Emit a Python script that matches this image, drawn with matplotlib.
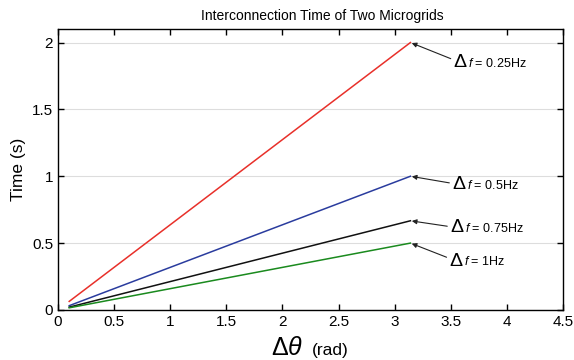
import matplotlib.pyplot as plt

plt.rcParams['font.family'] = ['Liberation Sans', 'DejaVu Sans']
plt.rcParams['mathtext.fontset'] = 'custom'
plt.rcParams['mathtext.rm'] = 'Liberation Sans'
plt.rcParams['mathtext.it'] = 'Liberation Sans:italic'

# phase difference range (rad)
theta = [0.1, 3.14]
# interconnection time (s) for each frequency difference
time_025 = [0.064, 2.0]
time_05 = [0.032, 1.0]
time_075 = [0.021, 0.667]
time_1 = [0.016, 0.5]

labels = ['0.25Hz', '0.5Hz', '0.75Hz', '1Hz']
colors = ['#e8302a', '#2a3c9e', '#111111', '#1a8a1e']
series = [time_025, time_05, time_075, time_1]

fig = plt.figure(figsize=(5.74, 3.6), dpi=100)
ax = fig.add_axes([0.101, 0.139, 0.880, 0.780])

for vals, c in zip(series, colors):
    ax.plot(theta, vals, color=c, lw=1.1)

# text offsets for annotations (points)
offsets = [(31, -14.5), (30, -6), (28.5, -5), (28, -13)]
for vals, lab, off in zip(series, labels, offsets):
    ax.annotate(r'$\Delta$', xy=(theta[1], vals[1]), xytext=off,
                textcoords='offset points', fontsize=14, va='center', ha='left',
                arrowprops=dict(arrowstyle='-|>', color='#222222', lw=0.8,
                                mutation_scale=7, shrinkA=0, shrinkB=1))
    ax.annotate(r'$\mathit{f}$ = ' + lab, xy=(theta[1], vals[1]),
                xytext=(off[0] + 10.5, off[1] - 0.5), textcoords='offset points',
                fontsize=9, va='center', ha='left')

ax.set_xlim(0, 4.5)
ax.set_ylim(0, 2.1)
ax.set_xticks([0, 0.5, 1, 1.5, 2, 2.5, 3, 3.5, 4, 4.5])
ax.set_xticklabels(['0', '0.5', '1', '1.5', '2', '2.5', '3', '3.5', '4', '4.5'])
ax.set_yticks([0, 0.5, 1, 1.5, 2])
ax.set_yticklabels(['0', '0.5', '1', '1.5', '2'])
ax.tick_params(direction='in', top=True, right=True, labelsize=11, length=4, width=1)
ax.yaxis.grid(True, color='#dddddd', lw=0.8)
ax.set_axisbelow(True)
for s in ax.spines.values():
    s.set_linewidth(1)

fig.text(0.561, 0.955, 'Interconnection Time of Two Microgrids', fontsize=10,
         ha='center', va='center')
ax.set_ylabel('Time (s)', fontsize=12.5)
fig.text(0.472, 0.0, r'$\Delta\theta$', fontsize=18, ha='left', va='bottom')
fig.text(0.543, 0.006, '(rad)', fontsize=12.5, ha='left', va='bottom')

fig.savefig('out.png', dpi=100)
